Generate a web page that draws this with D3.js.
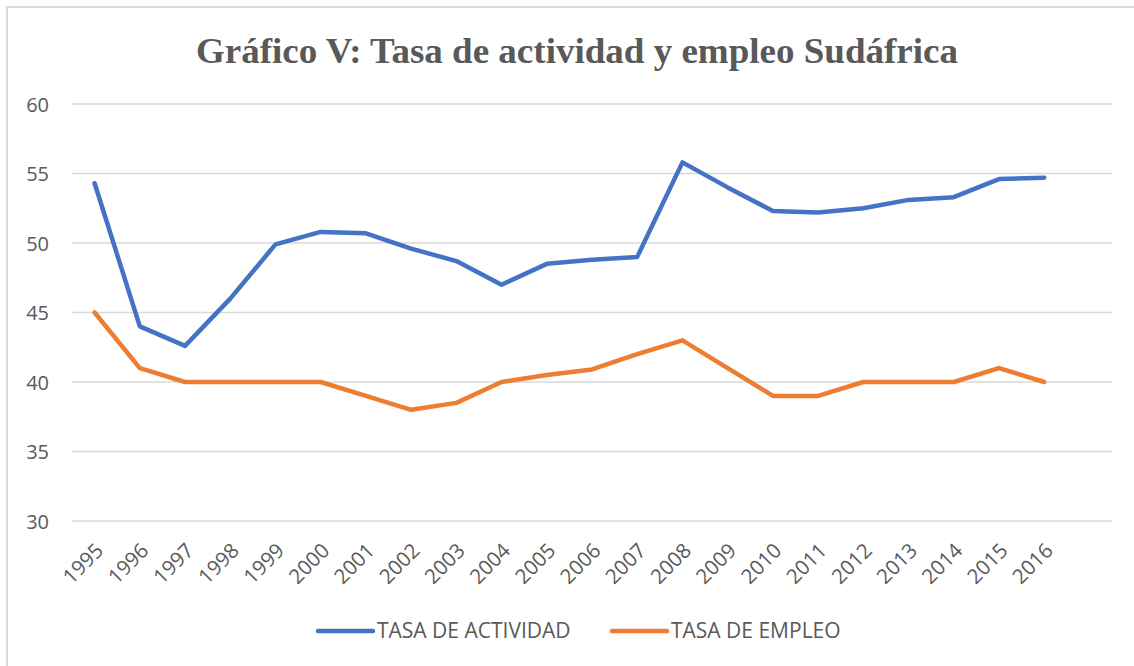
<!DOCTYPE html>
<html>
<head>
<meta charset="utf-8">
<script src="https://cdn.jsdelivr.net/npm/d3@7"></script>
<style>
  html, body { margin: 0; padding: 0; background: #fff; }
  svg { display: block; }
</style>
</head>
<body>
<svg id="chart" width="1134" height="666"></svg>
<script>
const years = ["1995","1996","1997","1998","1999","2000","2001","2002","2003","2004","2005","2006","2007","2008","2009","2010","2011","2012","2013","2014","2015","2016"];
const tasaActividad = [54.3, 44.0, 42.6, 46.0, 49.9, 50.8, 50.7, 49.6, 48.7, 47.0, 48.5, 48.8, 49.0, 55.8, 54.0, 52.3, 52.2, 52.5, 53.1, 53.3, 54.6, 54.7];
const tasaEmpleo = [45.0, 41.0, 40.0, 40.0, 40.0, 40.0, 39.0, 38.0, 38.5, 40.0, 40.5, 40.9, 42.0, 43.0, 41.0, 39.0, 39.0, 40.0, 40.0, 40.0, 41.0, 40.0];
const yTicks = [30, 35, 40, 45, 50, 55, 60];
const seriesNames = ["TASA DE ACTIVIDAD", "TASA DE EMPLEO"];
const chartTitle = "Gráfico V: Tasa de actividad y empleo Sudáfrica";

(function () {
const colors = ["#4472C4", "#ED7D31"];
const textColor = "#595959";
const svg = d3.select("#chart");

// outer chart border (cropped on right/bottom)
svg.append("rect").attr("x", 7).attr("y", 7).attr("width", 1140).attr("height", 680)
  .attr("fill", "#fff").attr("stroke", "#d9d9d9").attr("stroke-width", 2);

const pLeft = 72, pRight = 1112, pTop = 104, pBottom = 521;
// category slots: the years plus one empty trailing slot
const slots = years.concat([""]);
const x = d3.scaleBand().domain(slots).range([pLeft, pRight]);
const y = d3.scaleLinear().domain([30, 60]).range([pBottom, pTop]);
const cx = d => x(d) + x.bandwidth() / 2;

// gridlines
svg.append("g").selectAll("line").data(yTicks).join("line")
  .attr("x1", pLeft).attr("x2", pRight)
  .attr("y1", d => y(d)).attr("y2", d => y(d))
  .attr("stroke", "#d9d9d9").attr("stroke-width", 1.5);

// y axis labels
const yAxis = d3.axisLeft(y).tickValues(yTicks).tickSize(0).tickPadding(0);
const gy = svg.append("g").attr("transform", `translate(${49},0)`).call(yAxis);
gy.select(".domain").remove();
gy.selectAll("text").attr("font-family", "'Open Sans', sans-serif").attr("font-size", 20)
  .attr("fill", textColor).attr("dy", "0.35em");

// x axis labels
const xAxis = d3.axisBottom(x).tickValues(years).tickSize(0).tickPadding(0);
const gx = svg.append("g").attr("transform", `translate(0,${pBottom})`).call(xAxis);
gx.select(".domain").remove();
gx.selectAll(".tick text")
  .attr("font-family", "'Open Sans', sans-serif").attr("font-size", 20.5)
  .attr("fill", textColor)
  .attr("text-anchor", "end")
  .attr("dy", 0).attr("y", 0)
  .attr("transform", "translate(10,31) rotate(-45)");

// lines
const line = d3.line().x((d, i) => cx(years[i])).y(d => y(d));
[tasaActividad, tasaEmpleo].forEach((s, k) => {
  svg.append("path").datum(s).attr("d", line)
    .attr("fill", "none").attr("stroke", colors[k]).attr("stroke-width", 4.5)
    .attr("stroke-linejoin", "round").attr("stroke-linecap", "round");
});

// title
svg.append("text").attr("x", 577).attr("y", 63).attr("text-anchor", "middle")
  .attr("font-family", "'Liberation Serif', 'Times New Roman', serif")
  .attr("font-weight", "bold").attr("font-size", 36).attr("fill", textColor)
  .attr("textLength", 762).attr("lengthAdjust", "spacingAndGlyphs")
  .text(chartTitle);

// legend
const legendX = [318, 612];
const lg = svg.append("g");
seriesNames.forEach((name, k) => {
  lg.append("line").attr("x1", legendX[k]).attr("x2", legendX[k] + 55)
    .attr("y1", 631).attr("y2", 631)
    .attr("stroke", colors[k]).attr("stroke-width", 4.5).attr("stroke-linecap", "round");
  lg.append("text").attr("x", legendX[k] + 59).attr("y", 631).attr("dy", "0.35em")
    .attr("font-family", "'Open Sans', sans-serif").attr("font-size", 21)
    .attr("fill", textColor).text(name);
});
})();
</script>
</body>
</html>
